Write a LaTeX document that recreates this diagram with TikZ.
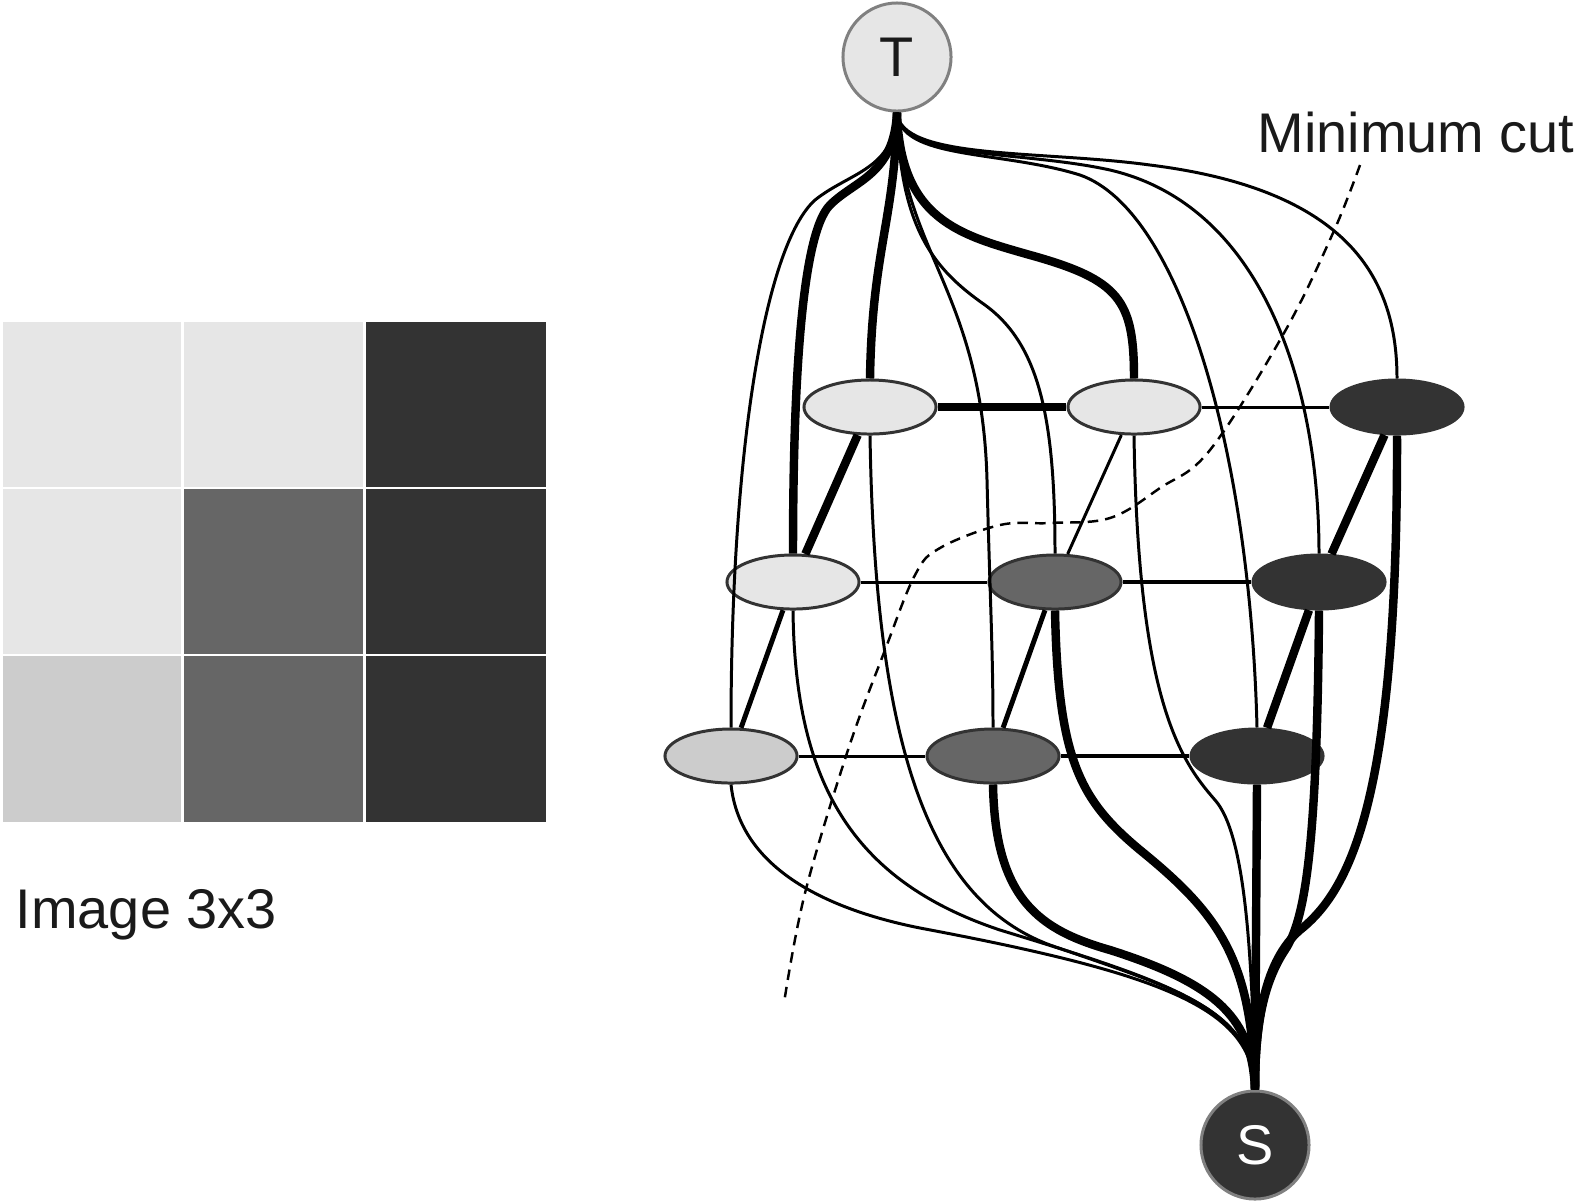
\documentclass[tikz,border=0pt]{standalone}
\usepackage{fontspec}
\setmainfont{Liberation Sans}
\usetikzlibrary{shapes.geometric}
\definecolor{pixlight}{HTML}{E6E6E6}
\definecolor{pixpale}{HTML}{CCCCCC}
\definecolor{pixmid}{HTML}{666666}
\definecolor{pixdark}{HTML}{333333}
\definecolor{rimgray}{HTML}{808080}
\definecolor{inkgray}{HTML}{1A1A1A}
\begin{document}
\begin{tikzpicture}[x=0.01cm,y=-0.01cm,font=\fontsize{15.9}{18}\selectfont,
  pixel node/.style={ellipse,draw=pixdark,line width=0.85pt,minimum width=1.32cm,minimum height=0.54cm,inner sep=0pt},
  terminal node/.style={circle,draw=rimgray,line width=0.85pt,minimum size=1.08cm,inner sep=0pt},
  caption/.style={anchor=base west,inner sep=0pt,text=inkgray}]
\tikzstyle{thin edge} = [draw,line width=0.85pt,black]
\tikzstyle{mid edge} = [draw,line width=1.4pt,black]
\tikzstyle{thick edge} = [draw,line width=2.4pt,black]

\useasboundingbox (0,0) rectangle (1576,1202);

% Image 3x3
\fill[pixlight] (3,322) rectangle (181,487);
\fill[pixlight] (184,322) rectangle (363,487);
\fill[pixdark] (366,322) rectangle (546,487);
\fill[pixlight] (3,489) rectangle (181,654);
\fill[pixmid] (184,489) rectangle (363,654);
\fill[pixdark] (366,489) rectangle (546,654);
\fill[pixpale] (3,656) rectangle (181,822);
\fill[pixmid] (184,656) rectangle (363,822);
\fill[pixdark] (366,656) rectangle (546,822);
\node[caption] (imglabel) at (15,928) {Image 3x3};

% Graph nodes
\node[terminal node, fill=pixlight, text=inkgray] (T) at (897,57) {T};
\node[terminal node, fill=pixdark, text=white] (S) at (1255,1145) {S};

\node[pixel node, fill=pixlight] (A1) at (870,407) {};
\node[pixel node, fill=pixlight] (A2) at (1134,407) {};
\node[pixel node, fill=pixdark] (A3) at (1397,407) {};
\node[pixel node, fill=pixlight] (B1) at (793,582) {};
\node[pixel node, fill=pixmid] (B2) at (1055,582) {};
\node[pixel node, fill=pixdark] (B3) at (1319,582) {};
\node[pixel node, fill=pixpale] (C1) at (731,756) {};
\node[pixel node, fill=pixmid] (C2) at (993,756) {};
\node[pixel node, fill=pixdark] (C3) at (1257,756) {};

% Neighbour edges
\draw[thick edge] (A1) -- (A2);
\draw[thin edge] (A2) -- (A3);
\draw[thin edge] (B1) -- (B2);
\draw[mid edge] (B2) -- (B3);
\draw[thin edge] (C1) -- (C2);
\draw[mid edge] (C2) -- (C3);
\draw[thick edge] (A1) -- (B1);
\draw[thin edge] (A2) -- (B2);
\draw[thick edge] (A3) -- (B3);
\draw[mid edge] (B1) -- (C1);
\draw[mid edge] (B2) -- (C2);
\draw[thick edge] (B3) -- (C3);

% Edges to T
\draw[thick edge] (T.south) .. controls (895,220) and (872,250) .. (A1.north);
\draw[thick edge] (T.south) .. controls (894,175) and (855,180) .. (830,205) .. controls (800,235) and (793,400) .. (B1.north);
\draw[thin edge] (T.south) .. controls (894,170) and (850,172) .. (815,200) .. controls (765,245) and (731,450) .. (C1.north);
\draw[thick edge] (T.south) .. controls (900,220) and (960,235) .. (1030,255) .. controls (1120,280) and (1134,300) .. (A2.north);
\draw[thin edge] (T.south) .. controls (900,230) and (935,270) .. (985,305) .. controls (1040,345) and (1055,420) .. (B2.north);
\draw[thin edge] (T.south) .. controls (900,250) and (982,290) .. (987,480) .. controls (990,600) and (993,650) .. (C2.north);
\draw[thin edge] (T.south) .. controls (900,160) and (1040,150) .. (1150,165) .. controls (1350,190) and (1397,280) .. (A3.north);
\draw[thin edge] (T.south) .. controls (900,160) and (1020,150) .. (1110,170) .. controls (1260,205) and (1319,380) .. (B3.north);
\draw[thin edge] (T.south) .. controls (900,160) and (1000,150) .. (1080,175) .. controls (1180,210) and (1250,450) .. (C3.north);

% Edges to S
\draw[thick edge] (C3.south) -- (S.north);
\draw[thick edge] (B3.south) .. controls (1317,850) and (1305,920) .. (1285,950) .. controls (1262,985) and (1255,1030) .. (S.north);
\draw[thick edge] (A3.south) .. controls (1398,800) and (1350,890) .. (1300,930) .. controls (1265,960) and (1255,1020) .. (S.north);
\draw[thick edge] (B2.south) .. controls (1058,760) and (1080,800) .. (1140,850) .. controls (1220,915) and (1252,960) .. (S.north);
\draw[thin edge] (A2.south) .. controls (1138,700) and (1180,760) .. (1215,800) .. controls (1245,834) and (1252,950) .. (S.north);
\draw[thick edge] (C2.south) .. controls (995,900) and (1040,930) .. (1110,950) .. controls (1220,985) and (1252,1020) .. (S.north);
\draw[thin edge] (A1.south) .. controls (875,750) and (930,900) .. (1050,945) .. controls (1180,990) and (1252,1010) .. (S.north);
\draw[thin edge] (B1.south) .. controls (795,780) and (850,880) .. (1000,930) .. controls (1180,985) and (1252,1010) .. (S.north);
\draw[thin edge] (C1.south) .. controls (740,870) and (830,910) .. (920,928) .. controls (1170,975) and (1252,1010) .. (S.north);

% Minimum cut
\draw[densely dashed, line width=0.7pt] plot[smooth, tension=0.6] coordinates {(1360,165) (1333,233) (1284,333) (1210,450) (1160,488) (1110,518) (1050,523) (1000,525) (940,548) (915,575) (885,650) (848,750) (805,893) (784,1003)};
\node[caption] (cutlabel) at (1257,152) {Minimum cut};

\end{tikzpicture}
\end{document}
